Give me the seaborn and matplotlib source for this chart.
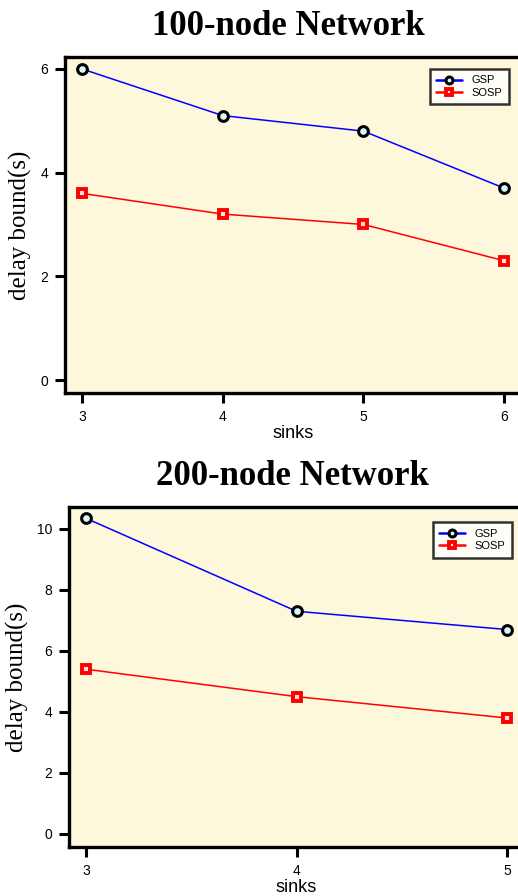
import matplotlib
matplotlib.use("Agg")
import matplotlib.pyplot as plt
import seaborn as sns
import pandas as pd

# Delay bound (s) versus number of sinks
sinks_100 = [3, 4, 5, 6]
gsp_100 = [6.0, 5.1, 4.8, 3.7]
sosp_100 = [3.6, 3.2, 3.0, 2.3]

sinks_200 = [3, 4, 5]
gsp_200 = [10.35, 7.3, 6.7]
sosp_200 = [5.4, 4.5, 3.8]

yticks_100 = [0, 2, 4, 6]
yticks_200 = [0, 2, 4, 6, 8, 10]

sns.set_theme(style="ticks")
plt.rcParams["font.family"] = ["Liberation Sans", "DejaVu Sans"]
plt.rcParams["text.color"] = "black"
plt.rcParams["axes.labelcolor"] = "black"
plt.rcParams["xtick.color"] = "black"
plt.rcParams["ytick.color"] = "black"

BG = "#FDF7DC"

fig = plt.figure(figsize=(5.18, 8.96), dpi=100)


def panel(rect, sinks, gsp, sosp, yticks, xlim, ylim, title, leg_top):
    ax = fig.add_axes(rect)
    ax.set_facecolor(BG)
    df = pd.DataFrame({
        "sinks": sinks * 2,
        "delay": gsp + sosp,
        "scheme": ["GSP"] * len(sinks) + ["SOSP"] * len(sinks),
    })
    sns.lineplot(data=df[df.scheme == "GSP"], x="sinks", y="delay", ax=ax,
                 color="blue", lw=1.1, marker="o", markersize=7,
                 markerfacecolor="#D8FAFA", markeredgecolor="black",
                 markeredgewidth=2.2, label="GSP")
    sns.lineplot(data=df[df.scheme == "SOSP"], x="sinks", y="delay", ax=ax,
                 color="red", lw=1.1, marker="s", markersize=5.5,
                 markerfacecolor="#FFE0E0", markeredgecolor="red",
                 markeredgewidth=2.8, label="SOSP")
    ax.set_xlim(*xlim)
    ax.set_ylim(*ylim)
    ax.set_xticks(sinks)
    ax.set_yticks(yticks)
    ax.tick_params(axis="both", labelsize=10, width=2.2, length=7,
                   direction="out", color="black", pad=5)
    for s in ("left", "bottom", "top"):
        ax.spines[s].set_linewidth(2.4)
        ax.spines[s].set_color("black")
    ax.spines["right"].set_visible(False)
    ax.set_xlabel("sinks", fontsize=13, labelpad=1)
    ax.set_ylabel("delay bound(s)", fontsize=18,
                  family=["Liberation Serif", "DejaVu Serif"], labelpad=6)
    ax.set_title(title, fontsize=25, fontweight="bold",
                 family=["Liberation Serif", "DejaVu Serif"], pad=16, x=0.49)
    leg = ax.legend(loc="upper right", bbox_to_anchor=(0.974, leg_top),
                    borderaxespad=0, fontsize=8, frameon=True, fancybox=False,
                    handlelength=2.3, handletextpad=0.9, borderpad=0.6,
                    labelspacing=0.2)
    leg.get_frame().set_edgecolor("black")
    leg.get_frame().set_linewidth(1.8)
    leg.get_frame().set_facecolor("white")
    for h in leg.legend_handles:
        h.set_markersize(5)
        h.set_linewidth(1.8)
    return ax


panel([0.1255, 0.5614, 0.8805, 0.375], sinks_100, gsp_100, sosp_100,
      yticks_100, (2.88, 6.12), (-0.25, 6.23), "100-node Network", 0.965)
panel([0.1332, 0.0547, 0.8784, 0.3795], sinks_200, gsp_200, sosp_200,
      yticks_200, (2.92, 5.08), (-0.43, 10.72), "200-node Network", 0.955)

fig.savefig("out.png", dpi=100, facecolor="white")
